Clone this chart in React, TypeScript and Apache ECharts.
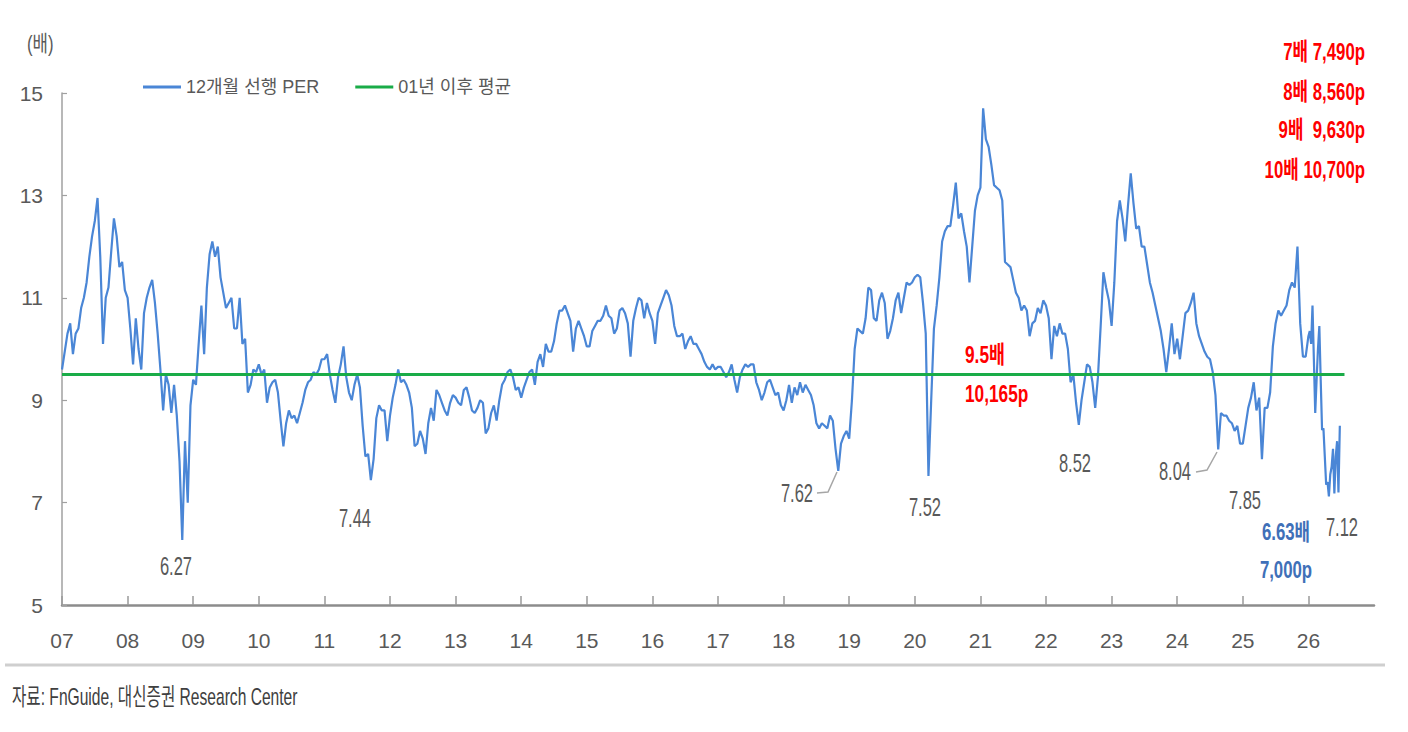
import React, { useEffect, useRef } from "react";
import * as echarts from "echarts";

// ---- data: 12-month forward PER (semi-monthly samples) ----
const per2007 = [9.6, 9.95, 10.3, 10.5, 9.9, 10.3, 10.4, 10.8, 11.0, 11.3, 11.8, 12.2, 12.5, 12.95, 11.8, 10.1, 11.0, 11.2, 11.9, 12.55, 12.2, 11.6, 11.7, 11.15];
const per2008 = [11.0, 10.4, 9.7, 10.6, 10.0, 9.6, 10.7, 11.0, 11.2, 11.35, 10.9, 10.3, 9.6, 8.8, 9.5, 9.3, 8.75, 9.3, 8.7, 7.8, 6.27, 8.2, 7.0, 8.9];
const per2009 = [9.4, 9.3, 10.1, 10.85, 9.9, 11.2, 11.85, 12.1, 11.8, 12.0, 11.4, 11.1, 10.8, 10.9, 11.0, 10.4, 10.4, 11.0, 10.1, 10.2, 9.15, 9.3, 9.6, 9.55];
const per2010 = [9.7, 9.5, 9.6, 8.95, 9.25, 9.35, 9.4, 9.15, 8.6, 8.1, 8.55, 8.8, 8.65, 8.7, 8.55, 8.75, 8.95, 9.2, 9.35, 9.4, 9.55, 9.5, 9.6, 9.8];
const per2011 = [9.8, 9.9, 9.5, 9.2, 8.95, 9.45, 9.7, 10.05, 9.45, 9.15, 9.0, 9.3, 9.5, 9.25, 8.5, 7.9, 7.95, 7.44, 7.85, 8.65, 8.9, 8.8, 8.8, 8.2];
const per2012 = [8.7, 9.05, 9.3, 9.6, 9.35, 9.4, 9.3, 9.15, 8.85, 8.1, 8.15, 8.4, 8.25, 7.95, 8.55, 8.85, 8.6, 9.2, 9.1, 8.95, 8.8, 8.7, 8.95, 9.1];
const per2013 = [9.05, 8.95, 8.9, 9.2, 9.25, 9.05, 8.8, 8.75, 8.85, 9.0, 8.95, 8.35, 8.45, 8.75, 8.9, 8.6, 9.0, 9.3, 9.4, 9.55, 9.6, 9.45, 9.2, 9.25];
const per2014 = [9.05, 9.25, 9.4, 9.55, 9.6, 9.3, 9.75, 9.9, 9.65, 10.1, 9.95, 9.95, 10.15, 10.5, 10.75, 10.75, 10.85, 10.7, 10.55, 9.95, 10.4, 10.55, 10.4, 10.25];
const per2015 = [10.05, 10.05, 10.35, 10.45, 10.55, 10.55, 10.65, 10.85, 10.65, 10.6, 10.3, 10.4, 10.75, 10.8, 10.7, 10.5, 9.85, 10.55, 10.8, 11.0, 10.95, 10.6, 10.9, 10.7];
const per2016 = [10.55, 10.1, 10.7, 10.85, 11.0, 11.15, 11.05, 10.85, 10.45, 10.25, 10.25, 10.3, 10.0, 10.15, 10.25, 10.1, 10.1, 10.0, 9.9, 9.75, 9.65, 9.6, 9.7, 9.6];
const per2017 = [9.65, 9.65, 9.55, 9.45, 9.55, 9.7, 9.4, 9.15, 9.45, 9.6, 9.7, 9.65, 9.7, 9.7, 9.35, 9.2, 9.0, 9.15, 9.35, 9.4, 9.25, 9.1, 9.15, 8.9];
const per2018 = [8.8, 9.0, 9.3, 8.95, 9.25, 9.1, 9.35, 9.15, 9.3, 9.2, 9.1, 8.9, 8.55, 8.45, 8.55, 8.5, 8.45, 8.7, 8.6, 8.05, 7.62, 8.15, 8.3, 8.4];
const per2019 = [8.25, 9.0, 10.0, 10.4, 10.35, 10.3, 10.6, 11.2, 11.15, 10.6, 10.55, 10.95, 11.1, 10.9, 10.2, 10.35, 10.6, 10.95, 11.1, 10.7, 11.0, 11.3, 11.25, 11.3];
const per2020 = [11.4, 11.45, 11.4, 10.9, 10.3, 7.52, 9.0, 10.4, 10.85, 11.4, 12.1, 12.3, 12.4, 12.4, 12.8, 13.25, 12.55, 12.65, 12.3, 12.0, 11.3, 12.0, 12.7, 13.0];
const per2021 = [13.15, 14.7, 14.1, 13.95, 13.6, 13.2, 13.15, 13.1, 12.9, 11.7, 11.65, 11.6, 11.35, 11.1, 11.0, 10.75, 10.85, 10.75, 10.25, 10.5, 10.55, 10.8, 10.7, 10.95];
const per2022 = [10.85, 10.6, 9.8, 10.45, 10.25, 10.5, 10.3, 10.3, 10.0, 9.35, 9.5, 8.95, 8.52, 9.0, 9.35, 9.7, 9.65, 9.35, 8.85, 9.45, 10.45, 11.5, 11.2, 10.95];
const per2023 = [10.45, 11.3, 12.5, 12.9, 12.55, 12.1, 12.8, 13.43, 12.85, 12.35, 12.4, 12.0, 12.0, 11.65, 11.3, 11.1, 10.85, 10.6, 10.35, 10.0, 9.55, 10.0, 10.5, 9.9];
const per2024 = [10.2, 9.8, 10.25, 10.7, 10.75, 10.9, 11.1, 10.5, 10.25, 10.1, 9.95, 9.85, 9.8, 9.55, 9.1, 8.04, 8.75, 8.7, 8.7, 8.6, 8.55, 8.4, 8.5, 8.15];
const per2025 = [8.15, 8.5, 8.85, 9.05, 9.35, 8.8, 9.05, 7.85, 8.85, 8.85, 9.15, 10.05, 10.5, 10.75, 10.65, 10.75, 10.85, 11.15, 11.3, 11.2, 12.0, 10.5, 9.85, 9.85];
// 2026 is read weekly (48 samples per year) up to the last observation
const per2026 = [10.25, 10.35, 10.1, 10.85, 9.8, 8.75, 9.4, 10.0, 10.45, 9.4, 8.42, 8.45, 7.9, 7.35, 7.4, 7.12, 7.55, 7.7, 8.05, 7.18, 7.9, 8.2, 7.2, 8.5];

const yearBlocks = [
  { year: 2007, perYear: 24, values: per2007 },
  { year: 2008, perYear: 24, values: per2008 },
  { year: 2009, perYear: 24, values: per2009 },
  { year: 2010, perYear: 24, values: per2010 },
  { year: 2011, perYear: 24, values: per2011 },
  { year: 2012, perYear: 24, values: per2012 },
  { year: 2013, perYear: 24, values: per2013 },
  { year: 2014, perYear: 24, values: per2014 },
  { year: 2015, perYear: 24, values: per2015 },
  { year: 2016, perYear: 24, values: per2016 },
  { year: 2017, perYear: 24, values: per2017 },
  { year: 2018, perYear: 24, values: per2018 },
  { year: 2019, perYear: 24, values: per2019 },
  { year: 2020, perYear: 24, values: per2020 },
  { year: 2021, perYear: 24, values: per2021 },
  { year: 2022, perYear: 24, values: per2022 },
  { year: 2023, perYear: 24, values: per2023 },
  { year: 2024, perYear: 24, values: per2024 },
  { year: 2025, perYear: 24, values: per2025 },
  { year: 2026, perYear: 48, values: per2026 },
];

// average since 2001, and the span it is drawn over (decimal years)
const avgValue = 9.5;
const avgSpan = [2007, 2026.55];

// axes
const xRange = [2007, 2027];
const yRange = [5, 15];
const yStep = 2;

const seriesNames = ["12개월 선행 PER", "01년 이후 평균"];

const FONT = "'Liberation Sans', Arial, 'Noto Sans CJK KR', sans-serif";
const GRAY = "#595959";

function gtext(text: string, x: number, y: number, opts: any = {}) {
  return {
    type: "text",
    x,
    y,
    scaleX: opts.scaleX || 1,
    silent: true,
    style: {
      text,
      fill: opts.fill || GRAY,
      fontSize: opts.fontSize || 25,
      fontFamily: FONT,
      fontWeight: opts.fontWeight || "normal",
      align: opts.align || "center",
      verticalAlign: "middle",
    },
  };
}

export default function App() {
  const ref = useRef<HTMLDivElement | null>(null);

  useEffect(() => {
    if (!ref.current) return;
    const chart = echarts.init(ref.current, undefined, { renderer: "svg" });

    const perData = yearBlocks.flatMap((b) =>
      b.values.map((v, i) => [b.year + i / b.perYear, v])
    );
    const avgData = avgSpan.map((x) => [x, avgValue]);

    const red = "#ff0000";
    const blueLbl = "#3f70b8";
    const num = { scaleX: 0.66 };
    const redTop = { fill: red, fontWeight: "bold", fontSize: 24, align: "right", scaleX: 0.7 };
    const redMid = { fill: red, fontWeight: "bold", fontSize: 24, align: "left", scaleX: 0.72 };
    const blue = { fill: blueLbl, fontWeight: "bold", fontSize: 23, scaleX: 0.73 };

    chart.setOption({
      animation: false,
      backgroundColor: "#ffffff",
      grid: { left: 62, right: 34, top: 93, bottom: 127, containLabel: false },
      legend: {
        left: 138,
        top: 73,
        icon: "rect",
        itemWidth: 38,
        itemHeight: 3,
        itemGap: 36,
        selectedMode: false,
        textStyle: { fontSize: 18, color: GRAY, fontFamily: FONT },
        data: seriesNames,
      },
      xAxis: {
        type: "value",
        min: xRange[0],
        max: xRange[1],
        interval: 1,
        axisLine: { show: true, onZero: false, lineStyle: { color: "#8c8c8c", width: 2.5 } },
        axisTick: { show: true, inside: true, length: 9, lineStyle: { color: "#9a9a9a", width: 1.5 } },
        splitLine: { show: false },
        axisLabel: {
          margin: 25,
          fontSize: 21,
          color: GRAY,
          fontFamily: FONT,
          showMaxLabel: false,
          formatter: (v: number) => (v >= 2027 ? "" : String(Math.round(v) % 100).padStart(2, "0")),
        },
      },
      yAxis: {
        type: "value",
        min: yRange[0],
        max: yRange[1],
        interval: yStep,
        axisLine: { show: true, onZero: false, lineStyle: { color: "#a0a0a0", width: 1.5 } },
        axisTick: { show: true, inside: true, length: 5, lineStyle: { color: "#a0a0a0", width: 1.2 } },
        splitLine: { show: false },
        axisLabel: { margin: 19, fontSize: 21, color: GRAY, fontFamily: FONT },
      },
      series: [
        {
          name: seriesNames[0],
          type: "line",
          data: perData,
          showSymbol: false,
          symbol: "none",
          color: "#4a86d6",
          lineStyle: { color: "#4a86d6", width: 2.2 },
          z: 2,
        },
        {
          name: seriesNames[1],
          type: "line",
          data: avgData,
          showSymbol: false,
          symbol: "none",
          color: "#1aac48",
          lineStyle: { color: "#1aac48", width: 3 },
          z: 3,
        },
      ],
      graphic: [
        gtext("(배)", 27, 43, { fontSize: 22, align: "left", scaleX: 0.76 }),
        // trough annotations
        gtext("6.27", 176, 566, num),
        gtext("7.44", 355, 518, num),
        gtext("7.62", 797, 493, num),
        {
          type: "polyline",
          silent: true,
          shape: { points: [[817, 493], [828, 492], [837, 472]] },
          style: { stroke: "#a6a6a6", lineWidth: 1.5, fill: null },
        },
        gtext("7.52", 925, 507, num),
        gtext("8.52", 1075, 463, num),
        gtext("8.04", 1175, 471, num),
        {
          type: "polyline",
          silent: true,
          shape: { points: [[1196, 472], [1207, 470], [1217, 452]] },
          style: { stroke: "#a6a6a6", lineWidth: 1.5, fill: null },
        },
        gtext("7.85", 1245, 500, num),
        gtext("7.12", 1342, 527, num),
        gtext("6.63배", 1286, 532, blue),
        gtext("7,000p", 1286, 570, blue),
        // average annotation
        gtext("9.5배", 965, 354, redMid),
        gtext("10,165p", 965, 393, redMid),
        // index levels at given multiples
        gtext("7배 7,490p", 1365, 51, redTop),
        gtext("8배 8,560p", 1365, 91, redTop),
        gtext("9배  9,630p", 1365, 129, redTop),
        gtext("10배 10,700p", 1365, 169, redTop),
        // separator and source
        {
          type: "line",
          silent: true,
          shape: { x1: 5, y1: 665, x2: 1385, y2: 665 },
          style: { stroke: "#cfcfcf", lineWidth: 3 },
        },
        gtext("자료: FnGuide, 대신증권 Research Center", 12, 697, {
          fontSize: 24,
          align: "left",
          fill: "#404040",
          scaleX: 0.65,
        }),
      ],
    });

    return () => chart.dispose();
  }, []);

  return (
    <div
      ref={ref}
      style={{ position: "fixed", left: 0, top: 0, width: 1408, height: 732, background: "#ffffff" }}
    />
  );
}
